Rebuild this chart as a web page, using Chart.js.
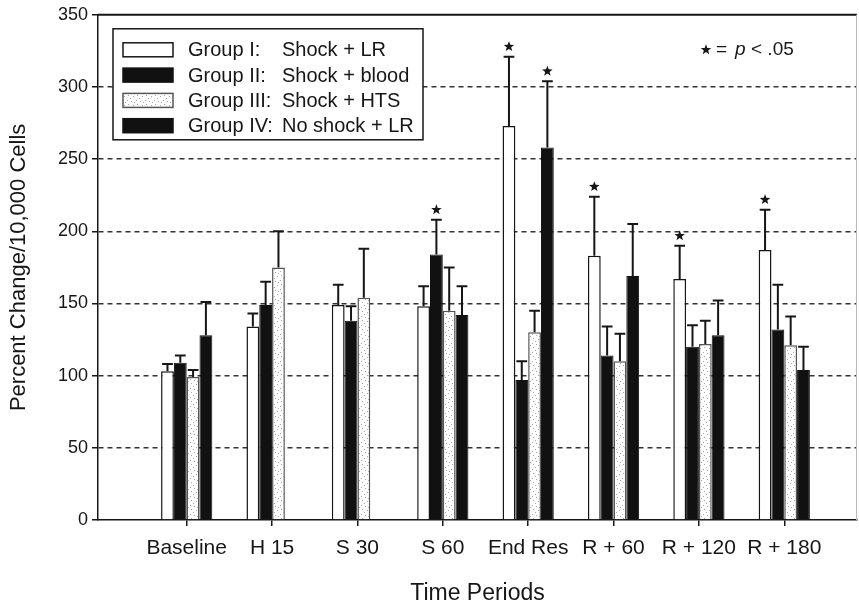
<!DOCTYPE html>
<html>
<head>
<meta charset="utf-8">
<title>Percent Change/10,000 Cells by time period</title>
<script src="https://cdn.jsdelivr.net/npm/chart.js@4.4.1/dist/chart.umd.min.js"></script>
<style>
  html, body { margin: 0; padding: 0; background: #fff; }
</style>
</head>
<body>
<canvas id="myChart" width="859" height="607"></canvas>
<script>
// Time periods along the x-axis
var periods = ['Baseline', 'H 15', 'S 30', 'S 60', 'End Res', 'R + 60', 'R + 120', 'R + 180'];

// Mean percent change per group (null = not measured)
var groupI   = [103, 134, 149, 148, 273, 183, 167, 187];
var groupII  = [109, 149, 138, 184,  97, 114, 120, 132];
var groupIII = [ 99, 175, 154, 145, 130, 110, 122, 121];
var groupIV  = [128, null, null, 142, 258, 169, 128, 104];

// Upper error bars (SEM)
var errI   = [ 5,  9, 14, 14, 48, 41, 23, 28];
var errII  = [ 5, 16, 10, 24, 13, 20, 15, 31];
var errIII = [ 5, 25, 34, 30, 15, 19, 16, 20];
var errIV  = [23, null, null, 20, 46, 36, 24, 16];

// Periods where p < .05
var sigI   = [4, 5, 6, 7];
var sigII  = [3];
var sigIII = [];
var sigIV  = [4];

var yTicks = [0, 50, 100, 150, 200, 250, 300, 350];

var ink = '#161616';
Chart.defaults.font.family = "'Liberation Sans', Arial, Helvetica, sans-serif";
Chart.defaults.color = ink;

// speckled fill for the HTS bars
function stipple() {
  var c = document.createElement('canvas');
  c.width = 9; c.height = 9;
  var g = c.getContext('2d');
  g.fillStyle = '#fff';
  g.fillRect(0, 0, 9, 9);
  g.fillStyle = '#a8a8a8';
  [[1, 1], [5, 2], [2, 5], [7, 6], [4, 8], [8, 3]].forEach(function (p) {
    g.fillRect(p[0], p[1], 1, 1);
  });
  return g.createPattern(c, 'repeat');
}
var hts = stipple();

function points(vals) {
  return vals.map(function (v, i) { return { x: i, y: v }; });
}

function star(ctx, cx, cy, r) {
  ctx.beginPath();
  for (var k = 0; k < 10; k++) {
    var rad = k % 2 ? r * 0.42 : r;
    var a = -Math.PI / 2 + k * Math.PI / 5;
    ctx.lineTo(cx + rad * Math.cos(a), cy + rad * Math.sin(a));
  }
  ctx.closePath();
  ctx.fill();
}

var errs = [errI, errII, errIII, errIV];
var sigs = [sigI, sigII, sigIII, sigIV];

// whiskers + significance stars on top of the bars
var errorBars = {
  id: 'errorBars',
  afterDatasetsDraw: function (chart) {
    var ctx = chart.ctx, y = chart.scales.y;
    chart.data.datasets.forEach(function (ds, d) {
      var meta = chart.getDatasetMeta(d);
      meta.data.forEach(function (bar, i) {
        var v = ds.data[i].y, e = errs[d][i];
        if (v == null || e == null) return;
        var top = y.getPixelForValue(v + e);
        var half = bar.width * 0.42;
        ctx.save();
        ctx.strokeStyle = ink;
        ctx.lineWidth = 2;
        ctx.beginPath();
        ctx.moveTo(bar.x, bar.y);
        ctx.lineTo(bar.x, top);
        ctx.moveTo(bar.x - half, top);
        ctx.lineTo(bar.x + half, top);
        ctx.stroke();
        if (sigs[d].indexOf(i) >= 0) {
          ctx.fillStyle = ink;
          star(ctx, bar.x, top - 10, 5.5);
        }
        ctx.restore();
      });
    });
  }
};

// boxed legend with two text columns, plus the p-value note
var boxLegend = {
  id: 'boxLegend',
  afterDraw: function (chart) {
    var ctx = chart.ctx, area = chart.chartArea;
    var x0 = area.left + 15, y0 = area.top + 14, w = 310, h = 111;
    ctx.save();
    ctx.fillStyle = '#fff';
    ctx.fillRect(x0, y0, w, h);
    ctx.strokeStyle = ink;
    ctx.lineWidth = 1.5;
    ctx.strokeRect(x0, y0, w, h);
    ctx.font = "20px 'Liberation Sans', Arial, sans-serif";
    ctx.textBaseline = 'middle';
    chart.data.datasets.forEach(function (ds, d) {
      var cy = y0 + 21 + d * 25.3;
      ctx.fillStyle = ds.backgroundColor;
      ctx.fillRect(x0 + 10, cy - 7, 50, 14);
      ctx.strokeStyle = ds.borderColor;
      ctx.lineWidth = 1.5;
      ctx.strokeRect(x0 + 10, cy - 7, 50, 14);
      var parts = ds.label.split(': ');
      ctx.fillStyle = ink;
      ctx.fillText(parts[0] + ':', x0 + 75, cy + 1);
      ctx.fillText(parts[1], x0 + 169, cy + 1);
    });

    // star = p < .05
    var nx = area.right - 151, ny = area.top + 34;
    ctx.fillStyle = ink;
    star(ctx, nx, ny + 1, 5.5);
    ctx.font = "19px 'Liberation Sans', Arial, sans-serif";
    ctx.fillText('=', nx + 10, ny + 1);
    ctx.font = "italic 19px 'Liberation Sans', Arial, sans-serif";
    ctx.fillText('p', nx + 29, ny + 1);
    ctx.font = "19px 'Liberation Sans', Arial, sans-serif";
    ctx.fillText('< .05', nx + 45, ny + 1);

    // top frame line
    ctx.strokeStyle = ink;
    ctx.lineWidth = 2;
    ctx.beginPath();
    ctx.moveTo(area.left, area.top);
    ctx.lineTo(area.right, area.top);
    ctx.stroke();
    ctx.strokeStyle = '#bbb';
    ctx.lineWidth = 1;
    ctx.beginPath();
    ctx.moveTo(area.right - 0.5, area.top);
    ctx.lineTo(area.right - 0.5, area.bottom);
    ctx.stroke();
    ctx.restore();
  }
};

var ctx = document.getElementById('myChart');
var myChart = new Chart(ctx, {
  type: 'bar',
  data: {
    datasets: [
      { label: 'Group I: Shock + LR', data: points(groupI),
        backgroundColor: '#ffffff', borderColor: ink, borderWidth: 1.5 },
      { label: 'Group II: Shock + blood', data: points(groupII),
        backgroundColor: '#111111', borderColor: '#111111', borderWidth: 1 },
      { label: 'Group III: Shock + HTS', data: points(groupIII),
        backgroundColor: hts, borderColor: '#555555', borderWidth: 1.5 },
      { label: 'Group IV: No shock + LR', data: points(groupIV),
        backgroundColor: '#111111', borderColor: '#111111', borderWidth: 1 }
    ]
  },
  options: {
    responsive: false,
    animation: false,
    categoryPercentage: 0.6,
    barPercentage: 1.0,
    layout: { padding: { top: 13, right: 2, left: 0, bottom: 0 } },
    plugins: {
      legend: { display: false },
      tooltip: { enabled: false }
    },
    scales: {
      x: {
        type: 'linear',
        offset: false,
        min: -1.039,
        max: 7.852,
        afterBuildTicks: function (scale) {
          scale.ticks = scale.ticks.filter(function (t) { return t.value >= 0 && t.value < periods.length; });
        },
        afterFit: function (scale) { scale.height = 87; },
        ticks: {
          stepSize: 1,
          includeBounds: false,
          autoSkip: false,
          maxRotation: 0,
          padding: 10,
          font: { size: 21 },
          callback: function (v) { return periods[v]; }
        },
        grid: { display: true, offset: false, drawOnChartArea: false, drawTicks: true, tickLength: 6, tickColor: ink, lineWidth: 1.5 },
        border: { display: true, color: ink, width: 1.5 },
        title: { display: true, text: 'Time Periods', font: { size: 23 }, padding: { top: 4, bottom: 0 } }
      },
      y: {
        min: 0,
        max: 350,
        afterBuildTicks: function (scale) {
          scale.ticks = yTicks.map(function (v) { return { value: v }; });
        },
        afterFit: function (scale) { scale.width = 98; },
        ticks: { font: { size: 18 }, padding: 4 },
        grid: {
          color: function (c) { return (c.tick && (c.tick.value === 0 || c.tick.value === 350)) ? 'rgba(0,0,0,0)' : '#333'; },
          lineWidth: 1.5,
          tickLength: 6,
          tickColor: ink
        },
        border: { display: true, color: ink, width: 1.5, dash: [5, 4] },
        title: { display: true, text: 'Percent Change/10,000 Cells', font: { size: 22 }, padding: { top: 6, bottom: 0 } }
      }
    }
  },
  plugins: [errorBars, boxLegend]
});
</script>
</body>
</html>
